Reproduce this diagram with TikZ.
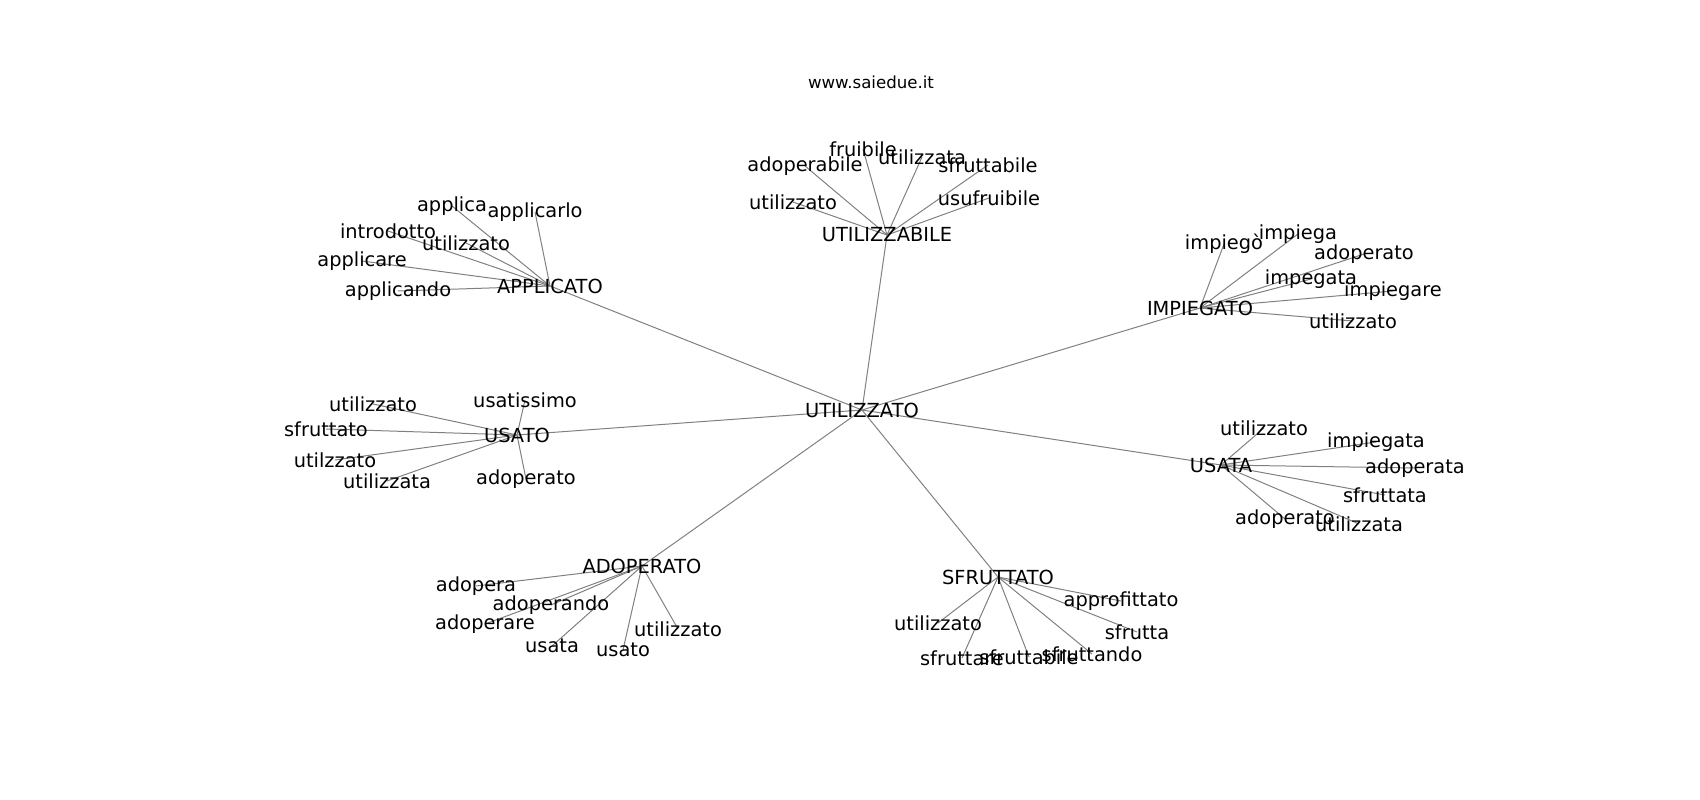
\documentclass[tikz,border=0pt]{standalone}
\usepackage{fontspec}
\setmainfont{DejaVu Sans}
\usetikzlibrary{positioning,backgrounds}

\begin{document}
\begin{tikzpicture}[x=0.01in, y=-0.01in, font=\fontsize{14}{16}\selectfont]
				\tikzset{parola/.style={inner sep=0pt}, arco/.style={draw=gray, line width=0.72pt}}
				\useasboundingbox (0,0) rectangle (1700,800);
				\node[parola, font=\fontsize{12}{14}\selectfont] (titolo) at (871,82) {www.saiedue.it};
				% centro e gruppi
				\node[parola] (utz) at (862,410) {UTILIZZATO};
				\node[parola] (ubile) at (887,235) {UTILIZZABILE};
				\node[parola] (appl) at (550,286) {APPLICATO};
				\node[parola] (impg) at (1200,308) {IMPIEGATO};
				\node[parola] (usato) at (517,435) {USATO};
				\node[parola] (usata) at (1221,465) {USATA};
				\node[parola] (adop) at (642,566) {ADOPERATO};
				\node[parola] (sfrt) at (998,577) {SFRUTTATO};
				% UTILIZZABILE
				\node[parola] (bfru) at (863,149) {fruibile};
				\node[parola] (butlta) at (922,157) {utilizzata};
				\node[parola] (bado) at (805,166) {adoperabile};
				\node[parola] (bsfr) at (988,165) {sfruttabile};
				\node[parola] (butl) at (793,202) {utilizzato};
				\node[parola] (busu) at (989,198) {usufruibile};
				% APPLICATO
				\node[parola] (papp) at (452,206) {applica};
				\node[parola] (pappl) at (535,212) {applicarlo};
				\node[parola] (pint) at (388,231) {introdotto};
				\node[parola] (putl) at (466,243) {utilizzato};
				\node[parola] (pappr) at (362,261) {applicare};
				\node[parola] (pappd) at (398,291) {applicando};
				% IMPIEGATO
				\node[parola] (iimpo) at (1224,244) {impiegò};
				\node[parola] (iimpa) at (1298,234) {impiega};
				\node[parola] (iado) at (1364,254) {adoperato};
				\node[parola] (iimpt) at (1311,279) {impegata};
				\node[parola] (iimpr) at (1393,291) {impiegare};
				\node[parola] (iutl) at (1353,321) {utilizzato};
				% USATO
				\node[parola] (ousa) at (525,400) {usatissimo};
				\node[parola] (outl) at (373,404) {utilizzato};
				\node[parola] (osfr) at (326,429) {sfruttato};
				\node[parola] (outz) at (335,460) {utilzzato};
				\node[parola] (outlta) at (387,481) {utilizzata};
				\node[parola] (oado) at (526,479) {adoperato};
				% USATA
				\node[parola] (autl) at (1264,428) {utilizzato};
				\node[parola] (aimp) at (1376,442) {impiegata};
				\node[parola] (aadoa) at (1415,468) {adoperata};
				\node[parola] (asfr) at (1385,495) {sfruttata};
				\node[parola] (aado) at (1285,519) {adoperato};
				\node[parola] (autlta) at (1359,524) {utilizzata};
				% ADOPERATO
				\node[parola] (dadp) at (476,586) {adopera};
				\node[parola] (dadpd) at (551,605) {adoperando};
				\node[parola] (dadpr) at (485,624) {adoperare};
				\node[parola] (dusa) at (552,646) {usata};
				\node[parola] (duso) at (623,650) {usato};
				\node[parola] (dutl) at (678,629) {utilizzato};
				% SFRUTTATO
				\node[parola] (sapp) at (1121,601) {approfittato};
				\node[parola] (sutl) at (938,623) {utilizzato};
				\node[parola] (ssfa) at (1137,632) {sfrutta};
				\node[parola] (ssfr) at (962,658) {sfruttare};
				\node[parola] (ssfb) at (1029,657) {sfruttabile};
				\node[parola] (ssfd) at (1092,654) {sfruttando};
				
				\begin{scope}[on background layer]
					\draw[arco] (utz.center) -- (ubile.center);
					\draw[arco] (utz.center) -- (appl.center);
					\draw[arco] (utz.center) -- (impg.center);
					\draw[arco] (utz.center) -- (usato.center);
					\draw[arco] (utz.center) -- (usata.center);
					\draw[arco] (utz.center) -- (adop.center);
					\draw[arco] (utz.center) -- (sfrt.center);
					
					\draw[arco] (ubile.center) -- (bfru.center);
					\draw[arco] (ubile.center) -- (butlta.center);
					\draw[arco] (ubile.center) -- (bado.center);
					\draw[arco] (ubile.center) -- (bsfr.center);
					\draw[arco] (ubile.center) -- (butl.center);
					\draw[arco] (ubile.center) -- (busu.center);
					
					\draw[arco] (appl.center) -- (papp.center);
					\draw[arco] (appl.center) -- (pappl.center);
					\draw[arco] (appl.center) -- (pint.center);
					\draw[arco] (appl.center) -- (putl.center);
					\draw[arco] (appl.center) -- (pappr.center);
					\draw[arco] (appl.center) -- (pappd.center);
					
					\draw[arco] (impg.center) -- (iimpo.center);
					\draw[arco] (impg.center) -- (iimpa.center);
					\draw[arco] (impg.center) -- (iado.center);
					\draw[arco] (impg.center) -- (iimpt.center);
					\draw[arco] (impg.center) -- (iimpr.center);
					\draw[arco] (impg.center) -- (iutl.center);
					
					\draw[arco] (usato.center) -- (ousa.center);
					\draw[arco] (usato.center) -- (outl.center);
					\draw[arco] (usato.center) -- (osfr.center);
					\draw[arco] (usato.center) -- (outz.center);
					\draw[arco] (usato.center) -- (outlta.center);
					\draw[arco] (usato.center) -- (oado.center);
					
					\draw[arco] (usata.center) -- (autl.center);
					\draw[arco] (usata.center) -- (aimp.center);
					\draw[arco] (usata.center) -- (aadoa.center);
					\draw[arco] (usata.center) -- (asfr.center);
					\draw[arco] (usata.center) -- (aado.center);
					\draw[arco] (usata.center) -- (autlta.center);
					
					\draw[arco] (adop.center) -- (dadp.center);
					\draw[arco] (adop.center) -- (dadpd.center);
					\draw[arco] (adop.center) -- (dadpr.center);
					\draw[arco] (adop.center) -- (dusa.center);
					\draw[arco] (adop.center) -- (duso.center);
					\draw[arco] (adop.center) -- (dutl.center);
					
					\draw[arco] (sfrt.center) -- (sapp.center);
					\draw[arco] (sfrt.center) -- (sutl.center);
					\draw[arco] (sfrt.center) -- (ssfa.center);
					\draw[arco] (sfrt.center) -- (ssfr.center);
					\draw[arco] (sfrt.center) -- (ssfb.center);
					\draw[arco] (sfrt.center) -- (ssfd.center);
				\end{scope}
			\end{tikzpicture}
\end{document}
